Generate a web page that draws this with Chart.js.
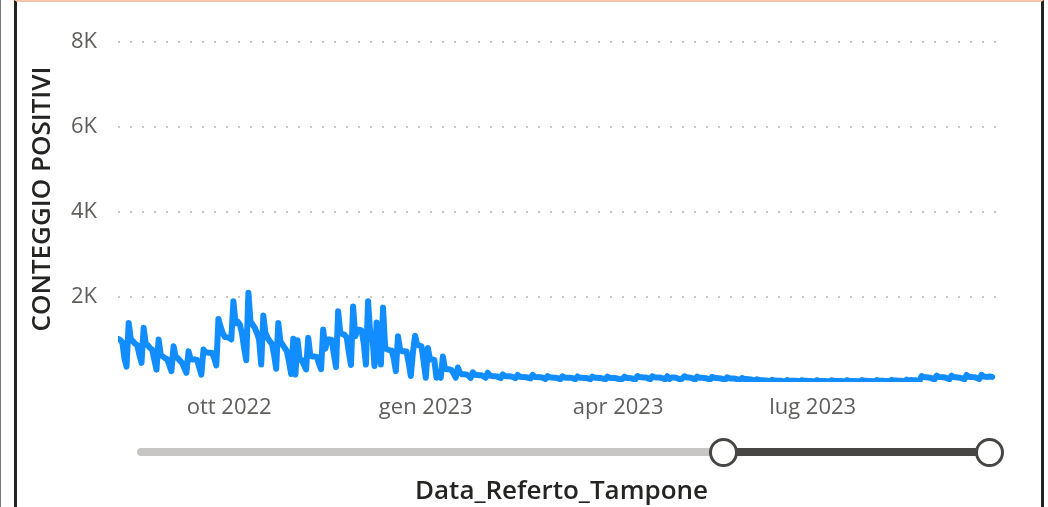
<!DOCTYPE html>
<html>
<head>
<meta charset="utf-8">
<script src="https://cdn.jsdelivr.net/npm/chart.js@4.4.0/dist/chart.umd.min.js"></script>
<style>
  html, body { margin: 0; padding: 0; background: #fff; overflow: hidden; }
  #wrap { position: relative; width: 1048px; height: 507px; }
  #positivi { position: absolute; left: 0; top: 0; }
  .edge { position: absolute; left: 0; top: 0; width: 1px; height: 507px; background: #777; }
  .frame { position: absolute; left: 14px; top: 0; width: 1030px; height: 520px; box-sizing: border-box;
           border-left: 3px solid #222; border-right: 3px solid #222; border-top: 2px solid #F6C4A8; }
  .track { position: absolute; top: 448px; height: 8px; border-radius: 4px; }
  .knob { position: absolute; top: 438px; width: 29px; height: 29px; box-sizing: border-box;
          border-radius: 50%; border: 3.5px solid #484644; background: #fff; }
</style>
</head>
<body>
<div id="wrap">
  <canvas id="positivi" width="1048" height="507"></canvas>
  <div class="edge"></div>
  <div class="frame"></div>
  <div class="track" style="left:137px; width:590px; background:#C8C6C4;"></div>
  <div class="track" style="left:723px; width:266px; background:#484644;"></div>
  <div class="knob" style="left:709px;"></div>
  <div class="knob" style="left:975px;"></div>
</div>
<script>
// daily positive counts, first day = 10 ago 2022
const startDate = '2022-08-10';

const positivi2022 = [
    1015, 990, 940, 560, 360,
    1390, 1010, 960, 900, 870, 640, 450,
    1275, 900, 860, 800, 760, 520, 290,
    1000, 640, 600, 560, 540, 400, 255,
    840, 590, 560, 500, 450, 330, 215,
    725, 540, 530, 530, 520, 350, 175,
    765, 700, 690, 690, 690, 560, 390,
    1485, 1300, 1150, 1060, 1050, 1040, 1000,
    1900, 1380, 1420, 1350, 1150, 800, 510,
    2100, 1420, 1350, 1275, 1150, 1000, 410,
    1565, 1150, 1040, 960, 900, 650, 310,
    1390, 950, 880, 800, 725, 480, 190,
    1015, 175, 985, 530, 520, 400, 295,
    1040, 620, 600, 600, 590, 430, 300,
    1235, 780, 1000, 1000, 990, 650, 350,
    1665, 1160, 1130, 1110, 1050, 700, 400,
    1775, 1075, 1230, 1230, 1210, 900, 410,
    1900, 1150, 1100, 375, 1400, 800, 410,
    1750, 800, 765, 750, 740, 560, 255,
    1075, 760, 725, 725, 720, 450, 140,
    700, 1090, 880, 860, 840, 480
];

const positivi2023 = [
    100,
    800, 530, 530, 520, 100, 130, 100,
    600, 310, 300, 300, 280, 200, 100,
    340, 220, 180, 180, 175, 150, 95,
    230, 170, 165, 160, 160, 130, 100,
    220, 150, 140, 137, 135, 115, 90,
    180, 140, 137, 135, 130, 110, 90,
    165, 125, 120, 115, 112, 100, 85,
    170, 120, 115, 113, 110, 95, 70,
    140, 110, 105, 100, 100, 85, 65,
    135, 105, 100, 100, 98, 85, 65,
    130, 100, 100, 95, 95, 80, 65,
    128, 100, 98, 95, 92, 80, 62,
    125, 98, 95, 92, 90, 75, 60,
    75, 125, 95, 92, 90, 75, 60,
    140, 115, 112, 108, 105, 85, 65,
    135, 112, 108, 105, 100, 85, 62,
    135, 70, 108, 105, 100, 82, 60,
    80, 135, 108, 104, 100, 80, 58,
    128, 102, 98, 95, 90, 75, 55,
    120, 98, 94, 90, 85, 70, 52,
    110, 88, 84, 80, 75, 60, 45,
    95, 72, 68, 64, 60, 48, 38,
    65, 45, 42, 40, 38, 30, 24,
    50, 35, 32, 30, 30, 24, 20,
    45, 30, 28, 28, 27, 22, 18,
    42, 28, 27, 26, 25, 20, 16,
    42, 27, 26, 25, 24, 20, 16,
    40, 26, 25, 24, 24, 19, 16,
    42, 27, 26, 25, 24, 20, 16,
    44, 28, 27, 26, 25, 20, 17,
    46, 30, 28, 27, 26, 22, 18,
    50, 35, 33, 32, 30, 25, 20,
    55, 28, 45, 44, 42, 32, 25,
    140, 115, 110, 105, 100, 80, 60,
    150, 120, 115, 110, 105, 85, 65,
    150, 115, 110, 105, 100, 85, 65,
    165, 125, 120, 115, 110, 90, 70,
    170, 130, 125, 120, 130, 120
];

const tickDates = ['2022-10-01', '2023-01-01', '2023-04-01', '2023-07-01'];
const tickLabels = ['ott 2022', 'gen 2023', 'apr 2023', 'lug 2023'];
const yTicks = [2000, 4000, 6000, 8000];

function dayIndex(iso) {
    return Math.round((Date.parse(iso) - Date.parse(startDate)) / 86400000);
}

const values = positivi2022.concat(positivi2023);
const points = values.map((v, i) => ({x: i, y: v}));
const tickDays = tickDates.map(dayIndex);

const labelFont = {family: "'Open Sans', sans-serif", size: 22};
const titleFont = {family: "'Open Sans', sans-serif", size: 26, weight: '600'};

// y title is centred a bit higher than the plot area in the original, so draw it here
const yTitle = {
    id: 'yTitle',
    afterDraw(chart) {
        const ctx = chart.ctx;
        ctx.save();
        ctx.translate(43, 199);
        ctx.rotate(-Math.PI / 2);
        ctx.font = "600 26px 'Open Sans', sans-serif";
        ctx.fillStyle = '#252423';
        ctx.textAlign = 'center';
        ctx.textBaseline = 'middle';
        ctx.fillText('CONTEGGIO POSITIVI', 0, 0);
        ctx.restore();
    }
};

const config = {
    type: 'line',
    data: {
        datasets: [{
            label: 'Conteggio positivi',
            data: points,
            borderColor: '#118DFF',
            borderWidth: 6,
            borderJoinStyle: 'round',
            borderCapStyle: 'round',
            pointRadius: 0,
            tension: 0,
            fill: false
        }]
    },
    options: {
        responsive: false,
        animation: false,
        devicePixelRatio: 1,
        layout: {padding: {left: 0, right: 43, top: 42, bottom: 0}},
        plugins: {legend: {display: false}, tooltip: {enabled: false}},
        scales: {
            x: {
                type: 'linear',
                min: 0,
                max: 415,
                afterBuildTicks: scale => { scale.ticks = tickDays.map(d => ({value: d})); },
                afterFit: scale => { scale.height = 125; },
                grid: {display: false, drawTicks: false},
                border: {display: false},
                ticks: {
                    autoSkip: false,
                    maxRotation: 0,
                    padding: 13,
                    color: '#605E5C',
                    font: labelFont,
                    callback: v => tickLabels[tickDays.indexOf(v)]
                },
                title: {display: true, text: 'Data_Referto_Tampone', color: '#252423', font: titleFont, padding: {top: 0, bottom: 0}}
            },
            y: {
                min: 0,
                max: 8000,
                afterBuildTicks: scale => { scale.ticks = yTicks.map(v => ({value: v})); },
                afterFit: scale => { scale.width = 118; },
                grid: {color: '#C8C6C4', lineWidth: 2, drawTicks: false},
                border: {display: false, dash: [2, 10]},
                ticks: {
                    padding: 21,
                    color: '#605E5C',
                    font: labelFont,
                    callback: v => (v / 1000) + 'K'
                }
            }
        }
    },
    plugins: [yTitle]
};

document.addEventListener('DOMContentLoaded', function () {
    new Chart(document.getElementById('positivi'), config);
});
</script>
</body>
</html>
